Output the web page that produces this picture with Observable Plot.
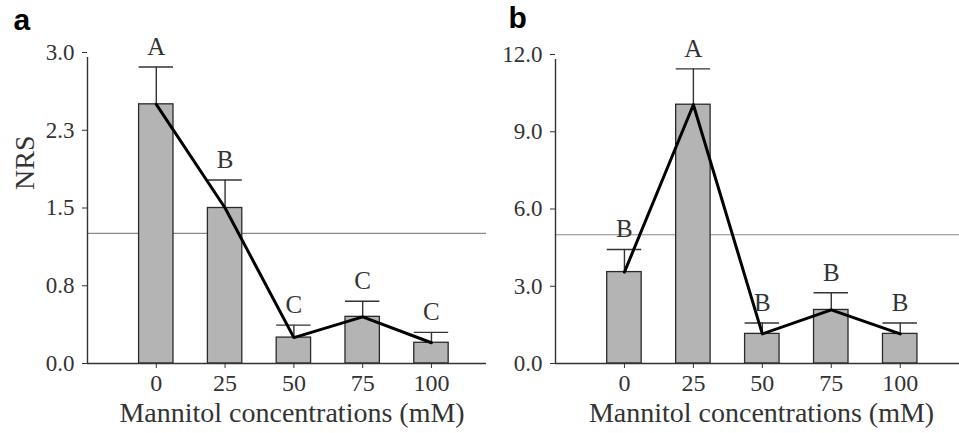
<!DOCTYPE html>
<html>
<head>
<meta charset="utf-8">
<script src="https://cdn.jsdelivr.net/npm/d3@7"></script>
<script src="https://cdn.jsdelivr.net/npm/@observablehq/plot@0.6"></script>
<style>
  html, body { margin: 0; padding: 0; background: #fff; }
  #wrap { position: relative; width: 959px; height: 433px; overflow: hidden; }
  #wrap > svg { position: absolute; top: 0; }
</style>
</head>
<body>
<div id="wrap"></div>
<script>
// ---- data ----
const concentrations = [0, 25, 50, 75, 100];
const nrsA = [2.50, 1.50, 0.25, 0.45, 0.20];
const seA = [0.36, 0.27, 0.12, 0.15, 0.10];
const lettersA = ["A", "B", "C", "C", "C"];
const refA = 1.255;
const yTicksA = [0, 0.75, 1.5, 2.25, 3];

const nrsB = [3.55, 10.05, 1.15, 2.08, 1.15];
const seB = [0.88, 1.39, 0.42, 0.67, 0.42];
const lettersB = ["B", "A", "B", "B", "B"];
const refB = 5.0;
const yTicksB = [0, 3, 6, 9, 12];

const xLabel = "Mannitol concentrations (mM)";
const yLabel = "NRS";

const halfBar = 6.25;
const serif = "'Liberation Serif', 'Times New Roman', serif";

function panel({values, se, letters, ref, yTicks, yMax, xMax, width, marginLeft, marginTop, panelLetter, showYLabel, letterDx, letterDy, titleDx}) {
  const data = concentrations.map((c, i) => ({c, v: values[i], e: values[i] + se[i], l: letters[i]}));
  const marks = [
    Plot.ruleY([ref], {stroke: "#8a8a8a", strokeWidth: 1.2}),
    Plot.rect(data, {x1: d => d.c - halfBar, x2: d => d.c + halfBar, y1: 0, y2: "v", fill: "#b4b4b4", stroke: "#2a2a2a", strokeWidth: 1.3}),
    Plot.ruleX(data, {x: "c", y1: "v", y2: "e", stroke: "#333", strokeWidth: 1.4}),
    Plot.ruleY(data, {y: "e", x1: d => d.c - halfBar, x2: d => d.c + halfBar, stroke: "#333", strokeWidth: 1.4}),
    Plot.line(data, {x: "c", y: "v", stroke: "#000", strokeWidth: 3}),
    Plot.text(data, {x: "c", y: "e", text: "l", dy: -20, fontSize: 25, fontFamily: serif, fill: "#333", lineAnchor: "middle"}),
    Plot.ruleY([0], {stroke: "#333", strokeWidth: 1.4}),
    Plot.ruleX([-25], {y1: 0, y2: yMax, insetBottom: -5, stroke: "#333", strokeWidth: 1.4}),
    Plot.axisX(concentrations, {tickSize: 5, tickPadding: 5, fontSize: 24, fontFamily: serif, fill: "#333", stroke: "#333", label: null, tickFormat: d => String(d)}),
    Plot.axisY(yTicks, {tickSize: 5, tickPadding: 8, fontSize: 23, fontFamily: serif, fill: "#333", stroke: "#333", label: null, tickFormat: d => d.toFixed(1)}),
    Plot.text([xLabel], {frameAnchor: "bottom", dy: 50, dx: titleDx, fontSize: 28, fontFamily: serif, fill: "#333", lineAnchor: "middle"}),
    Plot.text([panelLetter], {frameAnchor: "top-left", dx: letterDx, dy: letterDy, fontSize: 30, fontWeight: "bold", fontFamily: "'Liberation Sans', Arial, sans-serif", fill: "#000", lineAnchor: "middle", textAnchor: "start"})
  ];
  if (showYLabel) {
    marks.push(Plot.text([yLabel], {frameAnchor: "left", dx: -62, dy: -18, rotate: -90, fontSize: 28, fontFamily: serif, fill: "#333", lineAnchor: "middle"}));
  }
  return Plot.plot({
    width,
    height: 433,
    marginLeft,
    marginRight: 0,
    marginTop,
    marginBottom: 70,
    x: {type: "linear", domain: [-25, xMax], axis: null},
    y: {type: "linear", domain: [0, yMax], axis: null},
    style: {fontFamily: serif, background: "transparent", overflow: "visible"},
    marks
  });
}

const svgA = panel({values: nrsA, se: seA, letters: lettersA, ref: refA, yTicks: yTicksA, yMax: 3, xMax: 120,
  width: 486, marginLeft: 87, marginTop: 52, panelLetter: "a", showYLabel: true, letterDx: -74, letterDy: -32, titleDx: 5});
const svgB = panel({values: nrsB, se: seB, letters: lettersB, ref: refB, yTicks: yTicksB, yMax: 12, xMax: 121.5,
  width: 479, marginLeft: 75, marginTop: 54, panelLetter: "b", showYLabel: false, letterDx: -47, letterDy: -36, titleDx: 4});

svgA.style.left = "0px";
svgB.style.left = "480px";
const wrap = document.getElementById("wrap");
wrap.appendChild(svgA);
wrap.appendChild(svgB);
</script>
</body>
</html>
